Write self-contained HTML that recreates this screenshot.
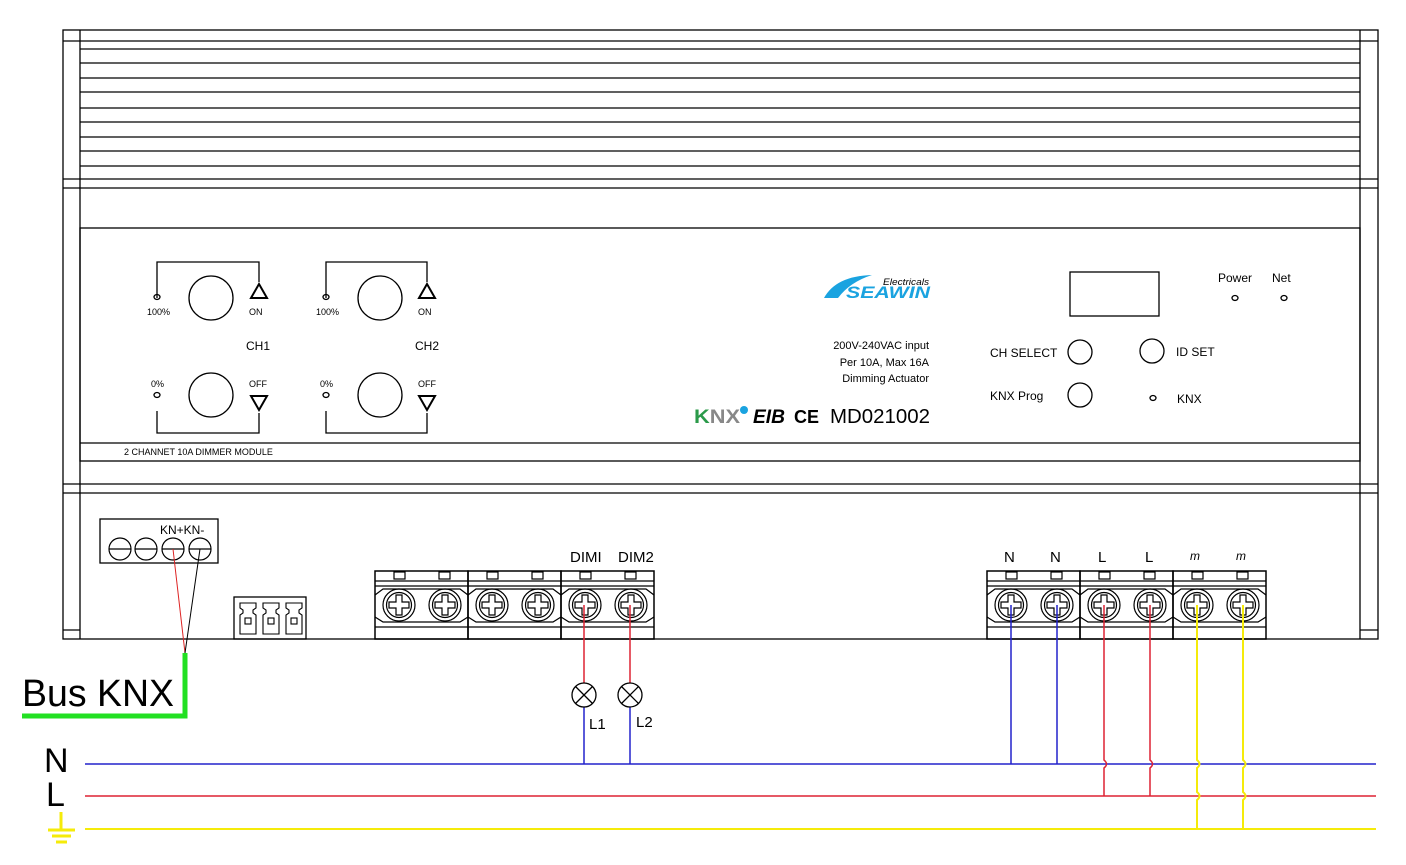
<!DOCTYPE html>
<html><head><meta charset="utf-8"><style>
html,body{margin:0;padding:0;background:#fff;}
svg{display:block;}
text{font-family:"Liberation Sans",Arial,sans-serif;fill:#000;}
</style></head><body>
<svg width="1406" height="865" viewBox="0 0 1406 865" xmlns="http://www.w3.org/2000/svg">
<defs>
<g id="scr">
 <circle r="16" fill="none" stroke="#000" stroke-width="1.2"/>
 <circle r="12.5" fill="none" stroke="#000" stroke-width="1.2"/>
 <path d="M-3,-10 H3 V-3 H10 V3 H3 V10 H-3 V3 H-10 V-3 H-3 Z" fill="none" stroke="#000" stroke-width="1.2"/>
</g>
<g id="tb" fill="none" stroke="#000" stroke-width="1.2">
 <rect x="0" y="0" width="93" height="68" stroke-width="1.5"/>
 <rect x="19" y="1" width="11" height="7"/>
 <rect x="64" y="1" width="11" height="7"/>
 <line x1="0" y1="10" x2="93" y2="10"/>
 <line x1="0" y1="15" x2="93" y2="15"/>
 <path d="M0,24 L8,18 H85 L93,24 M0,46 L8,51 H85 L93,46"/>
 <line x1="0" y1="56" x2="93" y2="56"/>
 <use href="#scr" x="24" y="34"/>
 <use href="#scr" x="70" y="34"/>
</g>
</defs>

<g fill="none" stroke="#000" stroke-width="1.3">
 <rect x="63" y="30" width="1315" height="609"/>
 <line x1="80" y1="30" x2="80" y2="639"/>
 <line x1="1360" y1="30" x2="1360" y2="639"/>
 <line x1="63" y1="41" x2="1378" y2="41"/>
 <line x1="80" y1="49" x2="1360" y2="49"/>
 <line x1="80" y1="63" x2="1360" y2="63"/>
 <line x1="80" y1="78" x2="1360" y2="78"/>
 <line x1="80" y1="92" x2="1360" y2="92"/>
 <line x1="80" y1="108" x2="1360" y2="108"/>
 <line x1="80" y1="122" x2="1360" y2="122"/>
 <line x1="80" y1="137" x2="1360" y2="137"/>
 <line x1="80" y1="151" x2="1360" y2="151"/>
 <line x1="80" y1="166" x2="1360" y2="166"/>
 <line x1="63" y1="179" x2="1378" y2="179"/>
 <line x1="63" y1="188" x2="1378" y2="188"/>
 <line x1="63" y1="484" x2="1378" y2="484"/>
 <line x1="63" y1="493" x2="1378" y2="493"/>
 <line x1="63" y1="630" x2="80" y2="630"/>
 <line x1="1360" y1="630" x2="1378" y2="630"/>
 <rect x="80" y="228" width="1280" height="233"/>
 <line x1="80" y1="443" x2="1360" y2="443"/>

 <path d="M157,298 V262 H259 V282"/>
 <path d="M157,411 V433 H259 V413"/>
 <circle cx="211" cy="298" r="22"/>
 <circle cx="211" cy="395" r="22"/>
 <ellipse cx="157" cy="297" rx="3" ry="2.5"/>
 <ellipse cx="157" cy="395" rx="3" ry="2.5"/>
 <path d="M251,298 L259,284 L267,298 Z" stroke-width="2"/>
 <path d="M251,396 L259,410 L267,396 Z" stroke-width="2"/>
 <path d="M326,298 V262 H427 V282"/>
 <path d="M326,411 V433 H427 V413"/>
 <circle cx="380" cy="298" r="22"/>
 <circle cx="380" cy="395" r="22"/>
 <ellipse cx="326" cy="297" rx="3" ry="2.5"/>
 <ellipse cx="326" cy="395" rx="3" ry="2.5"/>
 <path d="M419,298 L427,284 L435,298 Z" stroke-width="2"/>
 <path d="M419,396 L427,410 L435,396 Z" stroke-width="2"/>

 <rect x="1070" y="272" width="89" height="44"/>
 <circle cx="1080" cy="352" r="12"/>
 <circle cx="1152" cy="351" r="12"/>
 <circle cx="1080" cy="395" r="12"/>
 <ellipse cx="1235" cy="298" rx="3" ry="2.5"/>
 <ellipse cx="1284" cy="298" rx="3" ry="2.5"/>
 <ellipse cx="1153" cy="398" rx="3" ry="2.5"/>

 <rect x="100" y="519" width="118" height="44"/>
 <g stroke-width="1.2">
 <circle cx="120" cy="549" r="11"/><line x1="109" y1="549" x2="131" y2="549"/>
 <circle cx="146" cy="549" r="11"/><line x1="135" y1="549" x2="157" y2="549"/>
 <circle cx="173" cy="549" r="11"/><line x1="162" y1="549" x2="184" y2="549"/>
 <circle cx="200" cy="549" r="11"/><line x1="189" y1="549" x2="211" y2="549"/>
 </g>
 <rect x="234" y="597" width="72" height="42"/>
 <g stroke-width="1.1">
 <path d="M240,603 H256 V608 L253,610 V613 L256,615 V634 H240 V615 L243,613 V610 L240,608 Z"/>
 <rect x="245" y="618" width="6" height="6"/>
 <path d="M263,603 H279 V608 L276,610 V613 L279,615 V634 H263 V615 L266,613 V610 L263,608 Z"/>
 <rect x="268" y="618" width="6" height="6"/>
 <path d="M286,603 H302 V608 L299,610 V613 L302,615 V634 H286 V615 L289,613 V610 L286,608 Z"/>
 <rect x="291" y="618" width="6" height="6"/>
 </g>
</g>

<use href="#tb" x="375" y="571"/>
<use href="#tb" x="468" y="571"/>
<use href="#tb" x="561" y="571"/>
<use href="#tb" x="987" y="571"/>
<use href="#tb" x="1080" y="571"/>
<use href="#tb" x="1173" y="571"/>

<g font-size="9">
 <text x="147" y="315">100%</text>
 <text x="249" y="315">ON</text>
 <text x="151" y="387">0%</text>
 <text x="249" y="387">OFF</text>
 <text x="316" y="315">100%</text>
 <text x="418" y="315">ON</text>
 <text x="320" y="387">0%</text>
 <text x="418" y="387">OFF</text>
 <text x="124" y="455">2 CHANNET  10A DIMMER MODULE</text>
</g>
<text x="246" y="350" font-size="12">CH1</text>
<text x="415" y="350" font-size="12">CH2</text>

<g>
 <path d="M824,298 Q836,276 872,275 Q850,282 838,298 Z" fill="#1aa3e0"/>
 <text x="846" y="298" font-size="17" font-weight="bold" font-style="italic" textLength="84" lengthAdjust="spacingAndGlyphs" style="fill:#1aa3e0">SEAWIN</text>
 <text x="883" y="285" font-size="9" font-style="italic" textLength="46" lengthAdjust="spacingAndGlyphs">Electricals</text>
</g>
<g font-size="11" text-anchor="end">
 <text x="929" y="349">200V-240VAC input</text>
 <text x="929" y="366">Per 10A, Max 16A</text>
 <text x="929" y="382">Dimming Actuator</text>
</g>
<text x="694" y="423" font-size="19" font-weight="bold" textLength="46" lengthAdjust="spacingAndGlyphs" style="fill:#2b9a4a">K<tspan style="fill:#888">NX</tspan></text>
<circle cx="744" cy="410" r="4" fill="#1aa3e0"/>
<text x="753" y="423" font-size="19" font-weight="bold" font-style="italic" textLength="32" lengthAdjust="spacingAndGlyphs">EIB</text>
<text x="794" y="423" font-size="18" font-weight="bold">CE</text>
<text x="830" y="423" font-size="20" textLength="100" lengthAdjust="spacingAndGlyphs">MD021002</text>

<g font-size="12">
 <text x="1218" y="282">Power</text>
 <text x="1272" y="282">Net</text>
 <text x="990" y="357">CH SELECT</text>
 <text x="1176" y="356">ID SET</text>
 <text x="990" y="400">KNX Prog</text>
 <text x="1177" y="403">KNX</text>
</g>
<text x="160" y="534" font-size="12">KN+KN-</text>

<g font-size="15">
 <text x="570" y="562">DIMI</text>
 <text x="618" y="562">DIM2</text>
 <text x="1004" y="562">N</text>
 <text x="1050" y="562">N</text>
 <text x="1098" y="562">L</text>
 <text x="1145" y="562">L</text>
 <text x="1190" y="560" font-style="italic" font-size="12">m</text>
 <text x="1236" y="560" font-style="italic" font-size="12">m</text>
 <text x="589" y="729">L1</text>
 <text x="636" y="727">L2</text>
</g>

<line x1="173" y1="549" x2="185" y2="653" stroke="#d22" stroke-width="1"/>
<line x1="200" y1="549" x2="185" y2="653" stroke="#000" stroke-width="1"/>
<path d="M185,653 V716 H22" fill="none" stroke="#22e022" stroke-width="5"/>
<text x="22" y="706" font-size="38" textLength="152" lengthAdjust="spacingAndGlyphs">Bus KNX</text>

<text x="44" y="772" font-size="34">N</text>
<text x="46" y="806" font-size="34">L</text>
<g stroke="#f5eb0a" stroke-width="3" fill="none">
 <line x1="61" y1="812" x2="61" y2="829"/>
 <line x1="48" y1="830" x2="75" y2="830"/>
 <line x1="52" y1="836" x2="71" y2="836"/>
 <line x1="56" y1="842" x2="67" y2="842"/>
</g>

<line x1="85" y1="764" x2="1376" y2="764" stroke="#2222cc" stroke-width="1.5"/>
<line x1="85" y1="796" x2="1376" y2="796" stroke="#dd2233" stroke-width="1.5"/>
<line x1="85" y1="829" x2="1376" y2="829" stroke="#f5eb0a" stroke-width="2"/>

<g fill="none" stroke-width="1.5">
 <line x1="584" y1="605" x2="584" y2="683" stroke="#dd2233"/>
 <line x1="630" y1="605" x2="630" y2="683" stroke="#dd2233"/>
 <line x1="584" y1="707" x2="584" y2="764" stroke="#2222cc"/>
 <line x1="630" y1="707" x2="630" y2="764" stroke="#2222cc"/>
 <g stroke="#000" stroke-width="1.3">
  <circle cx="584" cy="695" r="12"/>
  <path d="M575.5,686.5 L592.5,703.5 M592.5,686.5 L575.5,703.5"/>
  <circle cx="630" cy="695" r="12"/>
  <path d="M621.5,686.5 L638.5,703.5 M638.5,686.5 L621.5,703.5"/>
 </g>
 <line x1="1011" y1="605" x2="1011" y2="764" stroke="#2222cc"/>
 <line x1="1057" y1="605" x2="1057" y2="764" stroke="#2222cc"/>
 <path d="M1104,605 V760 Q1109,764 1104,768 V796" stroke="#dd2233"/>
 <path d="M1150,605 V760 Q1155,764 1150,768 V796" stroke="#dd2233"/>
 <path d="M1197,605 V760 Q1202,764 1197,768 V792 Q1202,796 1197,800 V829" stroke="#f5eb0a" stroke-width="2"/>
 <path d="M1243,605 V760 Q1248,764 1243,768 V792 Q1248,796 1243,800 V829" stroke="#f5eb0a" stroke-width="2"/>
</g>
</svg>
</body></html>
